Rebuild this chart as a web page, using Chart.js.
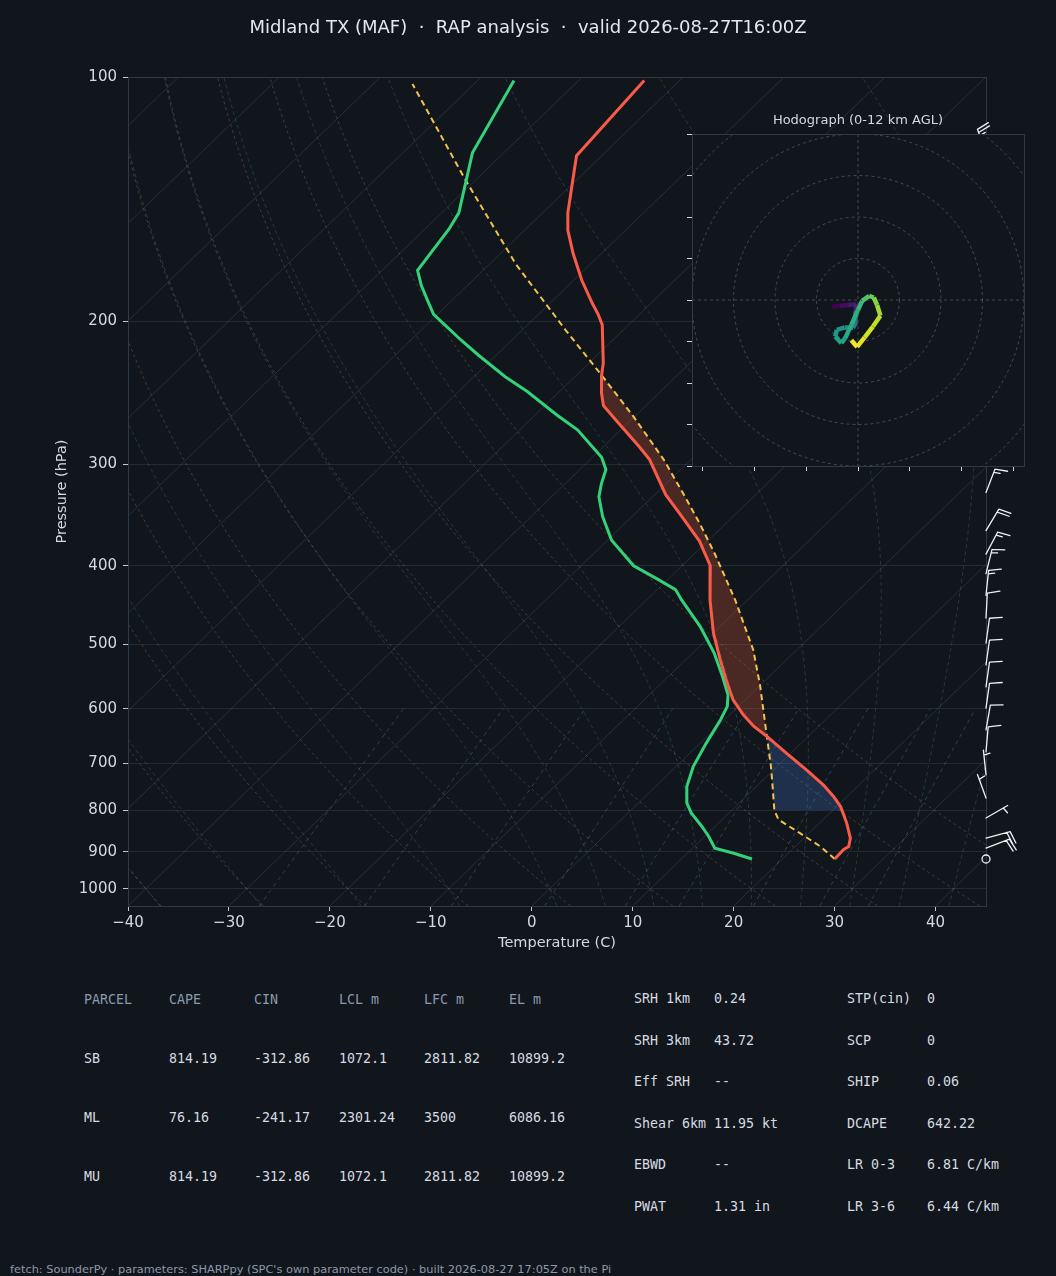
<!DOCTYPE html>
<html>
<head>
<meta charset="utf-8">
<script src="https://cdn.jsdelivr.net/npm/chart.js@4.4.1/dist/chart.umd.min.js"></script>
<style>
    html, body { margin: 0; padding: 0; background: #11151c; }
    #page { position: relative; width: 1056px; height: 1276px; overflow: hidden; background: #11151c; font-family: 'DejaVu Sans', sans-serif; }
    #skew { position: absolute; left: 0; top: 0; }
    #hodo { position: absolute; left: 640px; top: 96px; }
    .title { position: absolute; left: 0; top: 17px; width: 1056px; text-align: center; font-size: 18px; line-height: 20px; color: #e4e7eb; white-space: pre; }
    .hodo-title { position: absolute; left: 692px; top: 112px; width: 332px; text-align: center; font-size: 13px; line-height: 16px; color: #d5d9df; }
    .cell { position: absolute; font-family: 'DejaVu Sans Mono', monospace; font-size: 13.3px; line-height: 16px; color: #d6dbe2; white-space: pre; }
    .cell.head { color: #8a9ab0; }
    .foot { position: absolute; left: 10px; top: 1262px; font-size: 11.35px; line-height: 14px; color: #8d99aa; white-space: pre; }
</style>
</head>
<body>
<div id="page">
    <canvas id="skew" width="1056" height="960"></canvas>
    <div class="title">Midland TX (MAF)  ·  RAP analysis  ·  valid 2026-08-27T16:00Z</div>
    <div class="hodo-title">Hodograph (0-12 km AGL)</div>
    <canvas id="hodo" width="400" height="384"></canvas>
    <div id="table"></div>
    <div class="foot">fetch: SounderPy · parameters: SHARPpy (SPC's own parameter code) · built 2026-08-27 17:05Z on the Pi</div>
</div>
<script>
/* ---------- sounding ---------- */
const tempP = [101, 125, 147, 154.5, 165, 178, 190, 196, 202, 225, 233, 245, 254, 265, 286, 296, 327, 346, 373, 400,
               441, 484, 522, 558, 585, 611, 631, 649, 681, 714, 745, 770, 792, 800, 830, 866, 887, 895, 919];
const tempT = [-73.5, -72.5, -67.5, -65.7, -62.8, -59.2, -55.8, -54.1, -52.6, -48.6, -47.5, -45.7, -44.2, -41.4, -36.3, -34.1, -28.9, -25.4, -20.8, -17.2,
               -13.7, -10.0, -6.6, -3.5, -1.2, 1.4, 3.6, 5.9, 9.6, 13.3, 16.5, 18.7, 20.4, 20.9, 22.7, 24.6, 25.3, 25.1, 25.2];

const dewP = [101, 124, 147, 154, 173, 180.5, 190, 196, 202, 211, 220, 234, 244, 261, 272, 294, 304.5, 317, 329, 348,
              372, 400, 414, 428, 441, 475, 512, 548, 577, 596, 619, 662, 707, 748, 784, 807, 838, 862, 891, 904, 919];
const dewT = [-86.4, -83.1, -78.3, -77.6, -76.5, -74.6, -72.0, -70.4, -68.2, -65.0, -61.8, -56.9, -53.2, -47.8, -44.3, -39.1, -37.4, -36.4, -35.3, -32.9,
              -29.6, -24.8, -21.4, -18.2, -16.5, -12.0, -7.9, -4.6, -2.2, -1.1, -0.4, 0.6, 1.7, 3.1, 4.8, 6.3, 8.7, 10.4, 12.2, 14.6, 17.0];

const parcelP = [919, 887, 854, 822, 800, 748, 707, 649, 563, 508, 441, 388, 356, 327, 296, 262, 233, 205, 170, 133, 102];
const parcelT = [25.2, 22.5, 19.1, 15.6, 14.2, 11.6, 9.4, 5.9, 0.1, -4.3, -11.2, -17.8, -22.4, -27.1, -32.7, -40.1, -47.5, -55.7, -67.4, -81.4, -96.1];

const elP = 233, lfcP = 649, cinBaseP = 800;

/* wind barbs (kt, direction wind is from) */
const barbP   = [124, 325, 362, 387, 409, 435, 464, 498, 530, 564, 599, 637, 678, 724, 773, 818, 866, 891, 919];
const barbDir = [340, 21, 31, 28, 14, 6, 3, 8, 8, 8, 8, 10, 5, 354, 340, 60, 75, 69, 0];
const barbKt  = [25, 15, 20, 15, 15, 15, 10, 10, 10, 10, 10, 10, 10, 5, 5, 5, 20, 20, 0];

/* hodograph */
const hodoU  = [-6.2, -4.4, -2.4, -0.4, -0.6, -0.6, -1.2, -3.2, -5.1, -5.5, -4.0, -3.1, -1.6, 0.0, 1.0, 2.7, 3.8, 4.6, 5.4, 3.6, 1.6, -0.2, -1.6];
const hodoV  = [-1.7, -1.4, -1.2, -1.0, -3.2, -5.6, -6.7, -6.6, -7.2, -8.8, -10.4, -9.2, -6.0, -2.4, -0.2, 1.0, 0.6, -1.2, -3.8, -6.4, -9.0, -11.3, -9.7];
const hodoKm = [0, 0.4, 0.8, 1.2, 4.2, 5.0, 5.8, 6.1, 6.4, 6.7, 7.0, 7.3, 7.6, 8.0, 8.6, 9.2, 9.8, 10.3, 10.8, 11.2, 11.5, 11.8, 12.0];
const hodoRings = [10, 20, 30, 40, 50, 60];
const hodoXTicks = [-37.5, -25, -12.5, 0, 12.5, 25, 37.5];
const hodoYTicks = [-40, -30, -20, -10, 0, 10, 20, 30, 40];

/* axes */
const xTicks = [-40, -30, -20, -10, 0, 10, 20, 30, 40];
const pTicks = [100, 200, 300, 400, 500, 600, 700, 800, 900, 1000];

/* background lines */
const isotherms = [-120, -110, -100, -90, -80, -70, -60, -50, -40, -30, -20, -10, 0, 10, 20, 30, 40];
const dryAdiabats = [-40, -30, -20, -10, 0, 10, 20, 30, 40, 50];
const moistAdiabats = [-40, -30, -20, -10, 0, 5, 10, 15, 20, 25, 30, 35, 40, 45];
const mixingRatios = [0.4, 1, 2, 4, 7, 10, 16, 24, 32];

/* table */
const parcelHeader = ['PARCEL', 'CAPE', 'CIN', 'LCL m', 'LFC m', 'EL m'];
const parcelRows = [
    ['SB', '814.19', '-312.86', '1072.1', '2811.82', '10899.2'],
    ['ML', '76.16', '-241.17', '2301.24', '3500', '6086.16'],
    ['MU', '814.19', '-312.86', '1072.1', '2811.82', '10899.2']
];
const paramsLeft = [['SRH 1km', '0.24'], ['SRH 3km', '43.72'], ['Eff SRH', '--'], ['Shear 6km', '11.95 kt'], ['EBWD', '--'], ['PWAT', '1.31 in']];
const paramsRight = [['STP(cin)', '0'], ['SCP', '0'], ['SHIP', '0.06'], ['DCAPE', '642.22'], ['LR 0-3', '6.81 C/km'], ['LR 3-6', '6.44 C/km']];

/* ---------- skew-T helpers ---------- */
const P_BOT = 1050, P_TOP = 100, T_MIN = -40, T_MAX = 45;
const LOG_SPAN = Math.log(P_BOT / P_TOP);
const BG = '#11151c';

function skewX(t, p) {
    return t + (T_MAX - T_MIN) * Math.log(P_BOT / p) / LOG_SPAN;
}
function profile(ps, ts) {
    return ps.map((p, i) => ({ x: skewX(ts[i], p), y: p }));
}
function slice(ps, ts, lo, hi) {
    const out = [];
    ps.forEach((p, i) => { if (p >= lo && p <= hi) out.push({ x: skewX(ts[i], p), y: p }); });
    return out;
}
function levels(pFrom, pTo, n) {
    const out = [];
    for (let i = 0; i <= n; i++) out.push(pFrom * Math.pow(pTo / pFrom, i / n));
    return out;
}
function dTdlnp(T, p) {
    const es = 6.112 * Math.exp(17.67 * (T - 273.15) / (T - 29.65));
    const rs = 0.622 * es / (p - es);
    return (287.04 * T + 2.501e6 * rs) / (1005.7 + 2.501e6 * 2.501e6 * rs * 0.622 / (287.04 * T * T));
}
function moistT(t0, p) {
    let T = t0 + 273.15, lp = Math.log(1000);
    const target = Math.log(p);
    const n = Math.max(1, Math.ceil(Math.abs(target - lp) / 0.01));
    const h = (target - lp) / n;
    for (let i = 0; i < n; i++) {
        const k1 = dTdlnp(T, Math.exp(lp));
        const k2 = dTdlnp(T + h * k1 / 2, Math.exp(lp + h / 2));
        T += h * k2;
        lp += h;
    }
    return T - 273.15;
}
function mixingTd(wgkg, p) {
    const w = wgkg / 1000;
    const e = p * w / (0.622 + w);
    const l = Math.log(e / 6.112);
    return 243.5 * l / (17.67 - l);
}
function lineSet(data, color, width, dash, order) {
    return { data, showLine: true, borderColor: color, borderWidth: width, borderDash: dash || [],
             pointRadius: 0, pointHoverRadius: 0, fill: false, tension: 0, order };
}
function fmtTick(v) {
    return v < 0 ? '\u2212' + Math.abs(v) : String(v);
}

/* ---------- datasets ---------- */
const bgLevels = levels(P_BOT, P_TOP, 60);
const mixLevels = levels(P_BOT, 600, 20);
const datasets = [];

isotherms.forEach(t => {
    datasets.push(lineSet([{ x: skewX(t, P_BOT), y: P_BOT }, { x: skewX(t, P_TOP), y: P_TOP }], 'rgba(125,140,160,0.22)', 1, [], 20));
});
dryAdiabats.forEach(t0 => {
    const pts = bgLevels.map(p => ({ x: skewX((t0 + 273.15) * Math.pow(p / 1000, 0.2857) - 273.15, p), y: p }));
    datasets.push(lineSet(pts, 'rgba(190,135,80,0.33)', 1, [3, 3], 20));
});
moistAdiabats.forEach(t0 => {
    const pts = bgLevels.map(p => ({ x: skewX(moistT(t0, p), p), y: p }));
    datasets.push(lineSet(pts, 'rgba(80,150,160,0.28)', 1, [4, 3], 20));
});
mixingRatios.forEach(w => {
    const pts = mixLevels.map(p => ({ x: skewX(mixingTd(w, p), p), y: p }));
    datasets.push(lineSet(pts, 'rgba(80,125,185,0.42)', 1, [4, 4], 20));
});

// CAPE and CIN areas (env segment then parcel segment back)
const capeShape = slice(tempP, tempT, elP, lfcP).concat(slice(parcelP, parcelT, elP, lfcP));
const cinShape = slice(tempP, tempT, lfcP, cinBaseP).concat(slice(parcelP, parcelT, lfcP, cinBaseP));
[[capeShape, 'rgba(230,95,60,0.27)'], [cinShape, 'rgba(70,130,220,0.25)']].forEach(([pts, col]) => {
    datasets.push({ data: pts.concat([pts[0]]), showLine: true, fill: 'shape', backgroundColor: col,
                    borderColor: 'rgba(0,0,0,0)', borderWidth: 0, pointRadius: 0, tension: 0, order: 10 });
});

datasets.push(lineSet(profile(parcelP, parcelT), '#f3c24a', 2, [6, 4], 3));
datasets.push(lineSet(profile(dewP, dewT), '#33d17a', 3, [], 2));
datasets.push(lineSet(profile(tempP, tempT), '#fa5a48', 3, [], 1));

/* ---------- plugins ---------- */
const frame = {
    id: 'frame',
    afterDatasetsDraw(chart) {
        const { ctx, chartArea: a } = chart;
        ctx.save();
        ctx.strokeStyle = '#2f3947';
        ctx.lineWidth = 1;
        ctx.strokeRect(a.left + 0.5, a.top + 0.5, a.right - a.left, a.bottom - a.top);
        ctx.restore();
    }
};

function drawBarb(ctx, x, y, dir, spd) {
    if (spd < 2.5) {
        ctx.beginPath();
        ctx.arc(x, y, 4, 0, Math.PI * 2);
        ctx.stroke();
        return;
    }
    const L = 25, FH = 12.5, FW = 2.6, SP = 3.4;
    const a = dir * Math.PI / 180;
    const sx = Math.sin(a), sy = -Math.cos(a);
    const px = -sy, py = sx;
    const tx = x + sx * L, ty = y + sy * L;
    ctx.beginPath();
    ctx.moveTo(x, y);
    ctx.lineTo(tx, ty);
    let r = Math.round(spd / 5) * 5;
    const full = Math.floor(r / 10);
    const half = r - full * 10 >= 5;
    let off = 0;
    for (let i = 0; i < full; i++) {
        const bx = tx - sx * off, by = ty - sy * off;
        ctx.moveTo(bx, by);
        ctx.lineTo(bx + px * FH + sx * FW, by + py * FH + sy * FW);
        off += SP;
    }
    if (half) {
        if (off === 0) off = SP * 1.5;
        const bx = tx - sx * off, by = ty - sy * off;
        ctx.moveTo(bx, by);
        ctx.lineTo(bx + px * FH / 2 + sx * FW / 2, by + py * FH / 2 + sy * FW / 2);
    }
    ctx.stroke();
}

const windBarbs = {
    id: 'windBarbs',
    afterDatasetsDraw(chart) {
        const { ctx, chartArea, scales } = chart;
        ctx.save();
        ctx.strokeStyle = '#eef1f5';
        ctx.lineWidth = 1.3;
        ctx.lineCap = 'round';
        barbP.forEach((p, i) => {
            drawBarb(ctx, chartArea.right, scales.y.getPixelForValue(p), barbDir[i], barbKt[i]);
        });
        ctx.restore();
    }
};

Chart.defaults.font.family = "'DejaVu Sans', sans-serif";

new Chart(document.getElementById('skew'), {
    type: 'scatter',
    data: { datasets },
    options: {
        responsive: false,
        animation: false,
        devicePixelRatio: 1,
        layout: { padding: { top: 77, right: 70, left: 0, bottom: 0 } },
        plugins: { legend: { display: false }, tooltip: { enabled: false } },
        scales: {
            x: {
                type: 'linear',
                min: T_MIN,
                max: T_MAX,
                afterBuildTicks: s => { s.ticks = xTicks.map(v => ({ value: v })); },
                afterFit: s => { s.height = 54; },
                ticks: { color: '#d6dae0', font: { size: 15 }, padding: 3, autoSkip: false, maxRotation: 0, callback: v => fmtTick(v) },
                grid: { drawOnChartArea: false, drawTicks: true, tickLength: 5, tickColor: '#c3c9d1' },
                border: { display: true, color: '#2f3947' },
                title: { display: true, text: 'Temperature (C)', color: '#d6dae0', font: { size: 14.5 }, padding: { top: 0, bottom: 8 } }
            },
            y: {
                type: 'logarithmic',
                reverse: true,
                min: P_TOP,
                max: P_BOT,
                afterBuildTicks: s => { s.ticks = pTicks.map(v => ({ value: v })); },
                afterFit: s => { s.width = 128; },
                ticks: { color: '#d6dae0', font: { size: 15 }, padding: 6, autoSkip: false, callback: v => String(v) },
                grid: { color: '#232a34', drawOnChartArea: true, drawTicks: true, tickLength: 5, tickColor: '#c3c9d1' },
                border: { display: true, color: '#2f3947' },
                title: { display: true, text: 'Pressure (hPa)', color: '#d6dae0', font: { size: 14.5 }, padding: { top: 54, bottom: 0 } }
            }
        }
    },
    plugins: [frame, windBarbs]
});

/* ---------- hodograph ---------- */
const VIRIDIS = ['#440154', '#482475', '#414487', '#355f8d', '#2a788e', '#21918c', '#22a884', '#44bf70', '#7ad151', '#bddf26', '#fde725'];
function hexRgb(h) {
    return [parseInt(h.slice(1, 3), 16), parseInt(h.slice(3, 5), 16), parseInt(h.slice(5, 7), 16)];
}
function viridis(f) {
    f = Math.min(1, Math.max(0, f));
    const s = f * 10, i = Math.min(9, Math.floor(s)), t = s - i;
    const a = hexRgb(VIRIDIS[i]), b = hexRgb(VIRIDIS[i + 1]);
    return `rgb(${a.map((c, k) => Math.round(c + (b[k] - c) * t)).join(',')})`;
}

const hodoFrame = {
    id: 'hodoFrame',
    beforeDraw(chart) {
        const { ctx, chartArea: a } = chart;
        ctx.save();
        ctx.fillStyle = BG;
        ctx.fillRect(a.left, a.top, a.right - a.left, a.bottom - a.top);
        ctx.restore();
    },
    beforeDatasetsDraw(chart) {
        const { ctx, chartArea: a, scales } = chart;
        const cx = scales.x.getPixelForValue(0), cy = scales.y.getPixelForValue(0);
        ctx.save();
        ctx.beginPath();
        ctx.rect(a.left, a.top, a.right - a.left, a.bottom - a.top);
        ctx.clip();
        ctx.strokeStyle = 'rgba(125,135,150,0.45)';
        ctx.lineWidth = 1;
        ctx.setLineDash([3, 3]);
        hodoRings.forEach(r => {
            const rad = scales.x.getPixelForValue(r) - cx;
            ctx.beginPath();
            ctx.arc(cx, cy, rad, 0, Math.PI * 2);
            ctx.stroke();
        });
        ctx.beginPath();
        ctx.moveTo(a.left, cy); ctx.lineTo(a.right, cy);
        ctx.moveTo(cx, a.top); ctx.lineTo(cx, a.bottom);
        ctx.stroke();
        ctx.restore();
    },
    afterDatasetsDraw(chart) {
        const { ctx, chartArea: a } = chart;
        ctx.save();
        ctx.strokeStyle = '#2f3947';
        ctx.lineWidth = 1;
        ctx.strokeRect(a.left + 0.5, a.top + 0.5, a.right - a.left, a.bottom - a.top);
        ctx.restore();
    }
};

new Chart(document.getElementById('hodo'), {
    type: 'scatter',
    data: {
        datasets: [{
            data: hodoU.map((u, i) => ({ x: u, y: hodoV[i] })),
            showLine: true,
            borderWidth: 4.5,
            borderCapStyle: 'butt',
            borderJoinStyle: 'round',
            pointRadius: 0,
            tension: 0,
            borderColor: viridis(0),
            segment: { borderColor: c => viridis(hodoKm[c.p0DataIndex] / 12) }
        }]
    },
    options: {
        responsive: false,
        animation: false,
        devicePixelRatio: 1,
        layout: { padding: { top: 38, right: 16, left: 0, bottom: 0 } },
        plugins: { legend: { display: false }, tooltip: { enabled: false } },
        scales: {
            x: {
                type: 'linear', min: -40, max: 40,
                afterBuildTicks: s => { s.ticks = hodoXTicks.map(v => ({ value: v })); },
                afterFit: s => { s.height = 14; },
                ticks: { display: false },
                grid: { drawOnChartArea: false, drawTicks: true, tickLength: 5, tickColor: '#d3d8de' },
                border: { display: true, color: '#2f3947' }
            },
            y: {
                type: 'linear', min: -40, max: 40,
                afterBuildTicks: s => { s.ticks = hodoYTicks.map(v => ({ value: v })); },
                afterFit: s => { s.width = 52; },
                ticks: { display: false },
                grid: { drawOnChartArea: false, drawTicks: true, tickLength: 5, tickColor: '#d3d8de' },
                border: { display: true, color: '#2f3947' }
            }
        }
    },
    plugins: [hodoFrame]
});

/* ---------- parameter tables ---------- */
const table = document.getElementById('table');
function cell(text, x, y, head) {
    const d = document.createElement('div');
    d.className = head ? 'cell head' : 'cell';
    d.textContent = text;
    d.style.left = x + 'px';
    d.style.top = (y - 8) + 'px';
    table.appendChild(d);
}
const parcelCols = [84, 169, 254, 339, 424, 509];
const parcelRowY = [1000, 1059, 1118, 1177];
parcelHeader.forEach((h, i) => cell(h, parcelCols[i], parcelRowY[0], true));
parcelRows.forEach((row, r) => row.forEach((v, i) => cell(v, parcelCols[i], parcelRowY[r + 1], false)));

const paramRowY = [999, 1041, 1082, 1124, 1165, 1207];
paramsLeft.forEach(([k, v], r) => { cell(k, 634, paramRowY[r]); cell(v, 714, paramRowY[r]); });
paramsRight.forEach(([k, v], r) => { cell(k, 847, paramRowY[r]); cell(v, 927, paramRowY[r]); });
</script>
</body>
</html>
